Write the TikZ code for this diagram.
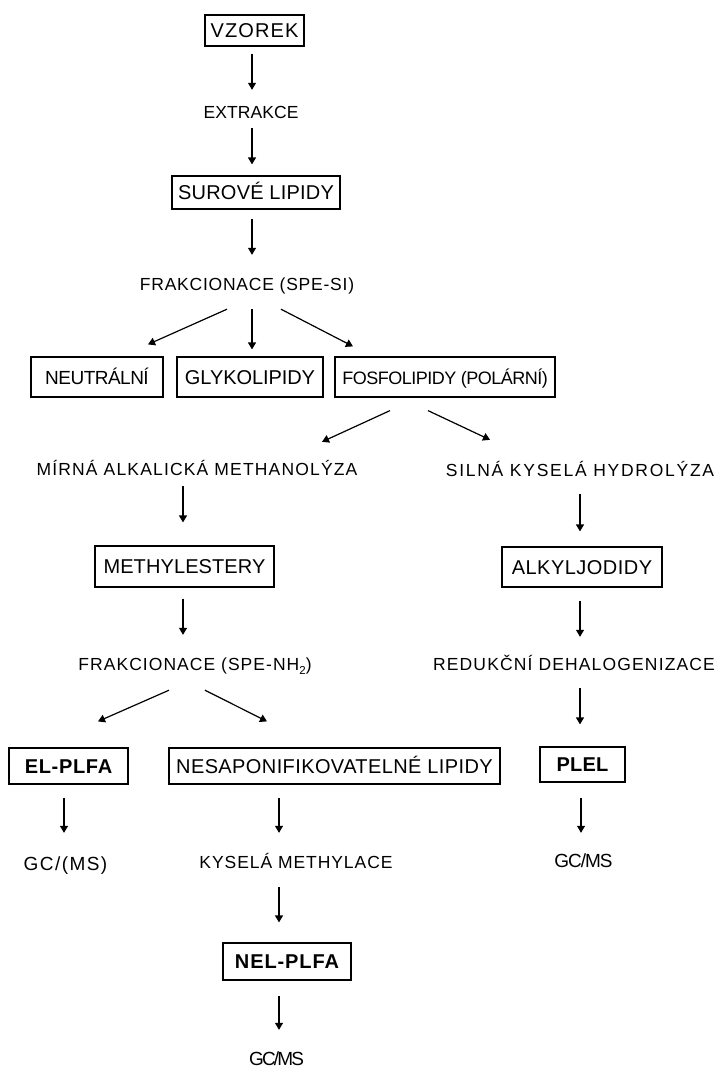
\documentclass[tikz,border=0pt]{standalone}
\usepackage{fontspec}
\setmainfont{Liberation Sans}
\usetikzlibrary{arrows.meta}
\ExplSyntaxOn
\NewDocumentCommand\fitls{mm}{
  \group_begin:
  \hbox_set:Nn \l_tmpa_box {#2}
  \fp_set:Nn \l_tmpa_fp { round( ( #1 - \dim_to_fp:n { \box_wd:N \l_tmpa_box } ) / ( \str_count_ignore_spaces:n {#2} * \dim_to_fp:n { \fontdimen6\font } ) * 100 , 2) }
  \use:e { \exp_not:N \addfontfeature { LetterSpace = \fp_use:N \l_tmpa_fp } }
  #2
  \group_end:
}
\ExplSyntaxOff
\tikzset{
  box/.style={draw, line width=1.2pt, inner sep=0pt, text height=14.3pt, text depth=0pt,
    font=\fontsize{20}{20}\selectfont},
  bbox/.style={box, font=\fontsize{20}{20}\selectfont\bfseries},
  lab/.style={inner sep=0pt, text height=11.5pt, text depth=0pt, font=\fontsize{17.5}{17.5}\selectfont},
  glab/.style={lab, font=\fontsize{19}{19}\selectfont},
  arr/.style={line width=1.2pt, -{Triangle[width=8pt,length=7pt]}}
}
\begin{document}
\begin{tikzpicture}[x=1pt,y=-1pt]
\fill[white] (0,0) rectangle (716,1068);
\useasboundingbox (0,0) rectangle (716,1068);
% nodes
\node[box, minimum width=99pt, minimum height=31pt] (vz) at (254.5,30.5) {\fitls{89}{VZOREK}};
\node[lab] (ex) at (251,113) {\fitls{95}{EXTRAKCE}};
\node[box, minimum width=168pt, minimum height=33pt] (sl) at (256,192.5) {\fitls{156}{SUROVÉ LIPIDY}};
\node[lab] (fr1) at (247,285) {\fitls{215}{FRAKCIONACE (SPE-SI)}};
\node[box, minimum width=132pt, minimum height=40pt, font=\fontsize{19}{19}\selectfont] (ne) at (97,377) {\fitls{103}{NEUTRÁLNÍ}};
\node[box, minimum width=146pt, minimum height=40pt] (gl) at (250,377) {\fitls{130}{GLYKOLIPIDY}};
\node[box, minimum width=220pt, minimum height=40pt, font=\fontsize{18}{18}\selectfont] (fo) at (445,377) {\fitls{205}{FOSFOLIPIDY (POLÁRNÍ)}};
\node[lab] (mi) at (197,470) {\fitls{322}{MÍRNÁ ALKALICKÁ METHANOLÝZA}};
\node[lab] (si) at (580,471) {\fitls{270}{SILNÁ KYSELÁ HYDROLÝZA}};
\node[box, minimum width=179pt, minimum height=41pt] (me) at (184.5,566.5) {\fitls{162}{METHYLESTERY}};
\node[box, minimum width=160pt, minimum height=40pt] (al) at (582,567) {\fitls{141}{ALKYLJODIDY}};
\node[lab] (fr2) at (195,665) {\fitls{222}{FRAKCIONACE (SPE-NH}\raisebox{-3.5pt}{\fontsize{11.5}{11.5}\selectfont 2})};
\node[lab] (re) at (574,665) {\fitls{283}{REDUKČNÍ DEHALOGENIZACE}};
\node[bbox, minimum width=119pt, minimum height=36pt] (el) at (68.5,766) {\fitls{88}{EL-PLFA}};
\node[box, minimum width=331pt, minimum height=36pt] (ns) at (334.5,766) {\fitls{317}{NESAPONIFIKOVATELNÉ LIPIDY}};
\node[bbox, minimum width=85pt, minimum height=35pt] (pl) at (582.5,764.5) {\fitls{52}{PLEL}};
\node[glab] (gc1) at (65.5,864.5) {\fitls{85}{GC/(MS)}};
\node[lab] (ky) at (296,863) {\fitls{194}{KYSELÁ METHYLACE}};
\node[glab] (gc3) at (583.5,862) {\fitls{57}{GC/MS}};
\node[bbox, minimum width=128pt, minimum height=37pt] (nl) at (287,961.5) {\fitls{105}{NEL-PLFA}};
\node[glab] (gc2) at (276.5,1060) {\fitls{53}{GC/MS}};
% connectors
\draw[arr] ([shift={(-2.5,7)}]vz.south) -- ([shift={(1,-17.25)}]ex.north);
\draw[arr] ([shift={(1,9.25)}]ex.south) -- ([shift={(-4,-11)}]sl.north);
\draw[arr] ([shift={(-4,9)}]sl.south) -- ([shift={(5,-24.25)}]fr1.north);
\draw[arr] ([shift={(-20,18.25)}]fr1.south) -- ([shift={(51,-12)}]ne.north);
\draw[arr] ([shift={(5,18.25)}]fr1.south) -- ([shift={(2,-7)}]gl.north);
\draw[arr] ([shift={(34,18.25)}]fr1.south) -- ([shift={(-92,-10)}]fo.north);
\draw[arr] ([shift={(-55,13)}]fo.south) -- ([shift={(125,-22.25)}]mi.north);
\draw[arr] ([shift={(-17,13)}]fo.south) -- ([shift={(-90,-25.25)}]si.north);
\draw[arr] ([shift={(-14,10.25)}]mi.south) -- ([shift={(-1.5,-23)}]me.north);
\draw[arr] ([shift={(-1.5,11)}]me.south) -- ([shift={(-12,-24.25)}]fr2.north);
\draw[arr] ([shift={(0,17.25)}]si.south) -- ([shift={(-2,-15)}]al.north);
\draw[arr] ([shift={(-2,13)}]al.south) -- ([shift={(6,-22.25)}]re.north);
\draw[arr] ([shift={(6,17.25)}]re.south) -- ([shift={(-2.5,-22)}]pl.north);
\draw[arr] ([shift={(-26,19.25)}]fr2.south) -- ([shift={(29.5,-26)}]el.north);
\draw[arr] ([shift={(10,19.25)}]fr2.south) -- ([shift={(-67.5,-26)}]ns.north);
\draw[arr] ([shift={(-4.5,13)}]el.south) -- ([shift={(-1.5,-25.75)}]gc1.north);
\draw[arr] ([shift={(-55.5,13)}]ns.south) -- ([shift={(-17,-24.25)}]ky.north);
\draw[arr] ([shift={(-1.5,15)}]pl.south) -- ([shift={(-2.5,-23.25)}]gc3.north);
\draw[arr] ([shift={(-17,18.25)}]ky.south) -- ([shift={(-8,-20)}]nl.north);
\draw[arr] ([shift={(-8,15)}]nl.south) -- ([shift={(2.5,-24.25)}]gc2.north);
\end{tikzpicture}
\end{document}
